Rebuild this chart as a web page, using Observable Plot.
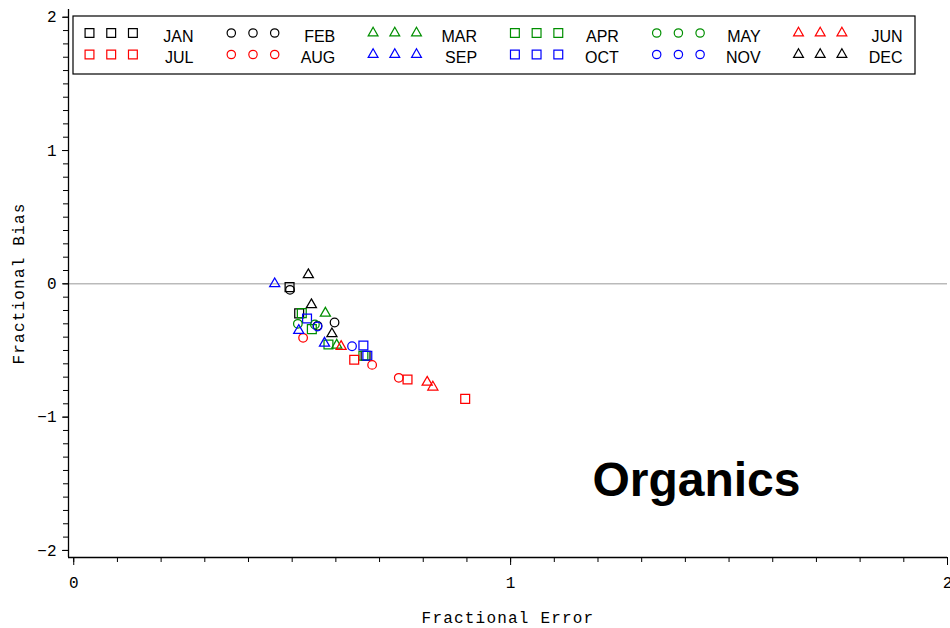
<!DOCTYPE html>
<html>
<head>
<meta charset="utf-8">
<script src="https://cdn.jsdelivr.net/npm/d3@7"></script>
<script src="https://cdn.jsdelivr.net/npm/@observablehq/plot@0.6"></script>
<style>
  html, body { margin: 0; padding: 0; background: #fff; }
  #chart { width: 950px; height: 628px; }
</style>
</head>
<body>
<div id="chart"></div>
<script>
// Months with their marker colour and shape
const months = ["JAN","FEB","MAR","APR","MAY","JUN","JUL","AUG","SEP","OCT","NOV","DEC"];
const monthColor = ["black","black","#008f00","#008f00","#008f00","#ff0000","#ff0000","#ff0000","#0000ff","#0000ff","#0000ff","black"];
const monthSymbol = ["square","circle","triangle","square","circle","triangle","square","circle","triangle","square","circle","triangle"];

// Observations: month, fractional error, fractional bias
const obsMonth = [
  "JAN","JAN","JAN",
  "FEB","FEB","FEB",
  "MAR","MAR",
  "APR","APR","APR","APR",
  "MAY","MAY",
  "JUN","JUN","JUN",
  "JUL","JUL","JUL",
  "AUG","AUG","AUG",
  "SEP","SEP","SEP",
  "OCT","OCT","OCT",
  "NOV","NOV",
  "DEC","DEC","DEC"
];
const fracError = [
  0.494, 0.516, 0.668,
  0.495, 0.597, 0.558,
  0.576, 0.602,
  0.522, 0.545, 0.583, 0.663,
  0.513, 0.552,
  0.612, 0.809, 0.822,
  0.642, 0.764, 0.896,
  0.525, 0.683, 0.744,
  0.460, 0.515, 0.574,
  0.534, 0.663, 0.672,
  0.558, 0.637,
  0.537, 0.544, 0.591
];
const fracBias = [
  -0.025, -0.222, -0.540,
  -0.045, -0.290, -0.315,
  -0.220, -0.460,
  -0.220, -0.340, -0.455, -0.540,
  -0.300, -0.305,
  -0.470, -0.738, -0.775,
  -0.570, -0.718, -0.863,
  -0.405, -0.608, -0.705,
   0.000, -0.350, -0.445,
  -0.260, -0.463, -0.540,
  -0.320, -0.468,
   0.068, -0.157, -0.375
];

// Axis extents, titles and tick labels
const xDomain = [-0.012, 2];
const yDomain = [-2.053, 2.058];
const xTitle = "Fractional Error";
const yTitle = "Fractional Bias";
const xTicks = [0, 1, 2];
const xTickLabels = ["0", "1", "2"];
const yTicks = [-2, -1, 0, 1, 2];
const yTickLabels = ["\u22122", "\u22121", "0", "1", "2"];
const xMinorTicks = d3.range(0, 21).map(i => i / 10);
const yMinorTicks = d3.range(-20, 21).map(i => i / 10);

const points = obsMonth.map((m, i) => {
  const k = months.indexOf(m);
  return {month: m, fe: fracError[i], fb: fracBias[i], color: monthColor[k], symbol: monthSymbol[k]};
});

const markerR = {square: 5.0, circle: 4.3, triangle: 3.75};
const dotsFor = shape => Plot.dot(points.filter(d => d.symbol === shape), {
  x: "fe", y: "fb", stroke: "color", symbol: shape, r: markerR[shape], strokeWidth: 1.25, fill: "none"
});

const chart = Plot.plot({
  width: 950,
  height: 628,
  marginLeft: 68,
  marginRight: 3,
  marginTop: 9,
  marginBottom: 71,
  x: {domain: xDomain},
  y: {domain: yDomain},
  color: {type: "identity"},
  style: {fontFamily: "'Liberation Mono', monospace", fontSize: "16px", color: "black", background: "white"},
  marks: [
    Plot.ruleY([0], {stroke: "#999999", strokeWidth: 1}),
    Plot.axisX({ticks: xMinorTicks, tickSize: 5, tickFormat: () => "", label: null}),
    Plot.axisX({ticks: xTicks, tickSize: 8, tickPadding: 11, tickFormat: d => xTickLabels[xTicks.indexOf(d)], label: null}),
    Plot.axisY({ticks: yMinorTicks, tickSize: 5, tickFormat: () => "", label: null}),
    Plot.axisY({ticks: yTicks, tickSize: 6, tickPadding: 6, tickFormat: d => yTickLabels[yTicks.indexOf(d)], label: null}),
    Plot.ruleX([xDomain[0]], {stroke: "black", strokeWidth: 1.3}),
    Plot.ruleY([yDomain[0]], {stroke: "black", strokeWidth: 1.3}),
    Plot.text([xTitle], {frameAnchor: "bottom", textAnchor: "middle", lineAnchor: "middle", dy: 60}),
    Plot.text([yTitle], {frameAnchor: "left", textAnchor: "middle", lineAnchor: "middle", dx: -50, rotate: -90}),
    Plot.text(["Organics"], {
      frameAnchor: "bottom-right", textAnchor: "end", lineAnchor: "middle", dx: -147, dy: -77,
      fontFamily: "'Liberation Sans', Arial, sans-serif", fontWeight: "bold", fontSize: 48
    }),
    dotsFor("square"),
    dotsFor("circle"),
    dotsFor("triangle")
  ]
});

const svg = d3.select(chart);

// Widen the spacing of the axis titles
svg.selectAll("text")
  .filter(function () { return this.textContent === xTitle || this.textContent === yTitle; })
  .style("letter-spacing", "1.2px");

// Legend box drawn inside the plotting area
const legend = svg.append("g").attr("class", "month-legend");
legend.append("rect")
  .attr("x", 73).attr("y", 16).attr("width", 842).attr("height", 58)
  .attr("fill", "white").attr("stroke", "black").attr("stroke-width", 1.2);

const symbolType = {square: d3.symbolSquare, circle: d3.symbolCircle, triangle: d3.symbolTriangle};
const symbolArea = {square: 78, circle: 55, triangle: 42};
months.forEach((m, k) => {
  const col = k % 6, row = Math.floor(k / 6);
  const x0 = 89.5 + col * 141.8;
  const yc = 33 + row * 21.5;
  const shape = monthSymbol[k];
  const path = d3.symbol(symbolType[shape], symbolArea[shape])();
  for (let j = 0; j < 3; j++) {
    legend.append("path")
      .attr("d", path)
      .attr("transform", `translate(${x0 + j * 21.7},${yc})`)
      .attr("fill", "none").attr("stroke", monthColor[k]).attr("stroke-width", 1.2);
  }
  legend.append("text")
    .attr("x", x0 + 104).attr("y", yc + 8.5)
    .attr("text-anchor", "end")
    .attr("font-family", "'Liberation Sans', Arial, sans-serif")
    .attr("font-size", 16)
    .attr("fill", "black")
    .text(m);
});

document.getElementById("chart").appendChild(chart);
</script>
</body>
</html>
